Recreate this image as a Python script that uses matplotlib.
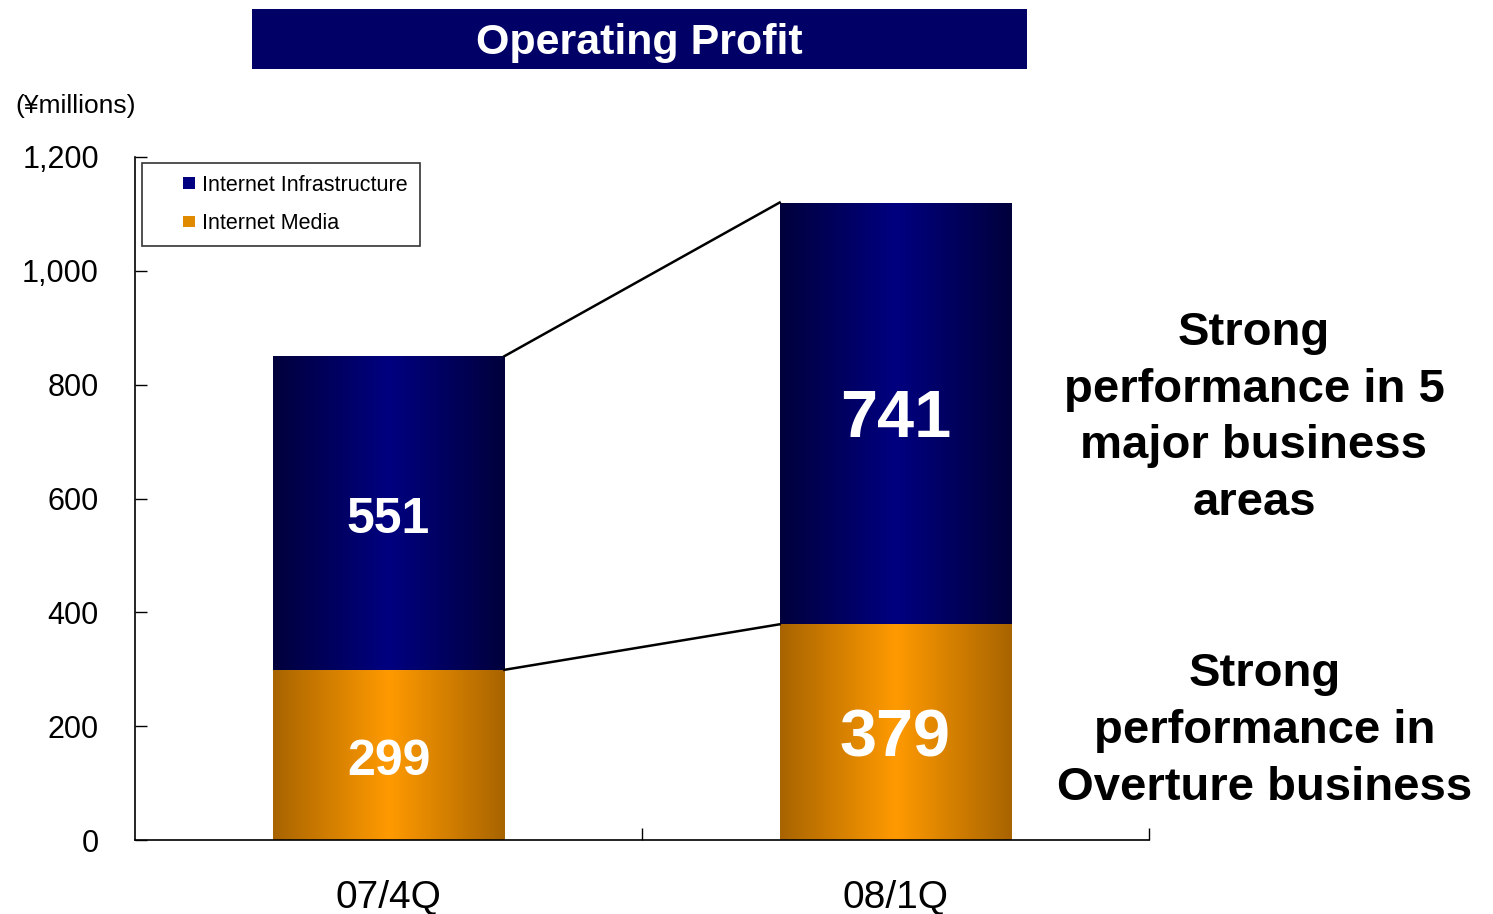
import numpy as np
import matplotlib
matplotlib.use("Agg")
import matplotlib.pyplot as plt
from matplotlib.colors import LinearSegmentedColormap
from matplotlib.patches import Rectangle, Patch
from matplotlib.legend_handler import HandlerPatch

plt.rcParams['font.family'] = ['Liberation Sans', 'DejaVu Sans']

categories = ['07/4Q', '08/1Q']
media = [299, 379]
infra = [551, 741]
yticks = [0, 200, 400, 600, 800, 1000, 1200]
ytick_labels = ['0', '200', '400', '600', '800', '1,000', '1,200']
label_sizes = [36, 48]

W, H = 1493, 914
fig = plt.figure(figsize=(W / 100, H / 100), dpi=100)
ax = fig.add_axes([135 / W, 1 - 840 / H, (1149 - 135) / W, (840 - 157) / H])

blue_cmap = LinearSegmentedColormap.from_list('b', ['#00003c', '#000080', '#00003c'])
orange_cmap = LinearSegmentedColormap.from_list('o', ['#a86400', '#ff9a00', '#a86400'])
grad = np.linspace(0, 1, 256).reshape(1, -1)

x = np.arange(len(categories))
width = 0.457
bars_m = ax.bar(x, media, width, color='#ff9a00', label='Internet Media')
bars_i = ax.bar(x, infra, width, bottom=media, color='#000080', label='Internet Infrastructure')

for bars, cmap in ((bars_m, orange_cmap), (bars_i, blue_cmap)):
    for b in bars:
        b.set_facecolor('none')
        x0, y0 = b.get_x(), b.get_y()
        im = ax.imshow(grad, cmap=cmap, aspect='auto',
                       extent=(x0, x0 + b.get_width(), y0, y0 + b.get_height()),
                       zorder=1)
        im.set_clip_path(b)

for i in range(len(categories)):
    ax.annotate(str(media[i]), (x[i], media[i] / 2), xytext=(0, -5), textcoords='offset points',
                color='white', ha='center', va='center',
                fontsize=label_sizes[i], fontweight='bold', zorder=5)
    ax.annotate(str(infra[i]), (x[i], media[i] + infra[i] / 2), xytext=(0, -5),
                textcoords='offset points', color='white', ha='center', va='center',
                fontsize=label_sizes[i], fontweight='bold', zorder=5)

# connector lines
totals = [m + n for m, n in zip(media, infra)]
ax.plot([x[0] + width / 2, x[1] - width / 2], [totals[0], totals[1]], color='black', lw=1.8, zorder=4)
ax.plot([x[0] + width / 2, x[1] - width / 2], [media[0], media[1]], color='black', lw=1.8, zorder=4)

ax.set_xlim(-0.5, 1.5)
ax.set_ylim(0, 1200)
ax.set_yticks(yticks)
ax.set_yticklabels(ytick_labels)
ax.set_xticks(x)
ax.set_xticklabels(categories)
ax.set_xticks([0.5, 1.5], minor=True)
ax.tick_params(axis='y', direction='in', length=8.6, width=1, labelsize=22, pad=26)
ax.tick_params(axis='x', which='major', length=0, labelsize=28, pad=29)
ax.tick_params(axis='x', which='minor', direction='in', length=8.6, width=1)
for s in ('top', 'right'):
    ax.spines[s].set_visible(False)
for s in ('left', 'bottom'):
    ax.spines[s].set_linewidth(1.2)


def right_square(legend, orig_handle, xdescent, ydescent, width, height, fontsize):
    s = 0.55 * fontsize
    return Rectangle((width - s - xdescent, (height - s) / 2 - ydescent), s, s)


handles = [Patch(facecolor='#000080'), Patch(facecolor='#e08a00')]
leg = ax.legend(handles, ['Internet Infrastructure', 'Internet Media'],
                loc='upper left', bbox_to_anchor=(7 / 1014, 1 - 6 / 683),
                fontsize=15.5, frameon=True, fancybox=False, edgecolor='black',
                handlelength=1.9, handleheight=0.6, handletextpad=0.35,
                labelspacing=0.8, borderpad=0.55, borderaxespad=0,
                handler_map={Patch: HandlerPatch(patch_func=right_square)})
leg.get_frame().set_linewidth(1.2)
leg.set_zorder(6)

# unit label
fig.text(15 / W, 1 - 106 / H, '(¥millions)', fontsize=19, ha='left', va='center')

# title box
fig.patches.append(Rectangle((252 / W, 1 - 69 / H), (1027 - 252) / W, 60 / H,
                             transform=fig.transFigure, facecolor='#000066', edgecolor='none'))
fig.text(639.5 / W, 1 - 43 / H, 'Operating Profit', color='white', fontsize=31,
         fontweight='bold', ha='center', va='center')

fig.text(1254 / W, 1 - 418 / H, 'Strong\nperformance in 5\nmajor business\nareas',
         fontsize=34, fontweight='bold', ha='center', va='center', multialignment='center',
         linespacing=1.38)
fig.text(1265 / W, 1 - 731 / H, 'Strong\nperformance in\nOverture business',
         fontsize=34, fontweight='bold', ha='center', va='center', multialignment='center',
         linespacing=1.38)

fig.savefig('out.png', dpi=100)
